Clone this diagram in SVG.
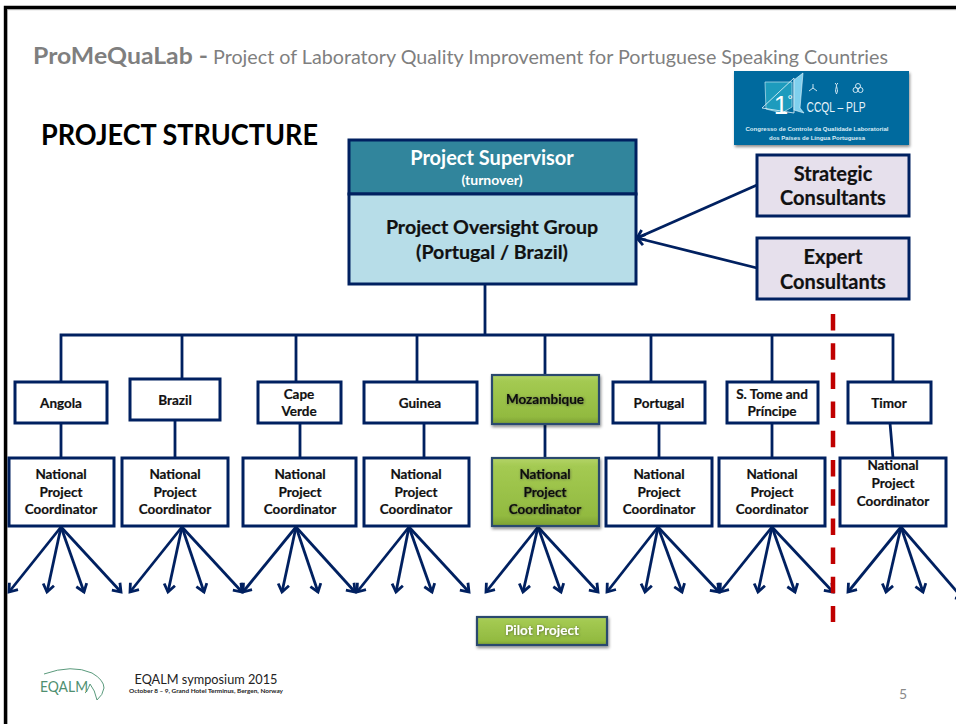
<svg xmlns="http://www.w3.org/2000/svg" width="956" height="724" viewBox="0 0 956 724">
<defs>
<linearGradient id="green" x1="0" y1="0" x2="0" y2="1"><stop offset="0" stop-color="#b4d468"/><stop offset="0.12" stop-color="#a4ca52"/><stop offset="0.85" stop-color="#92ba40"/><stop offset="1" stop-color="#7ca032"/></linearGradient>
<filter id="sh" x="-10%" y="-10%" width="125%" height="130%"><feDropShadow dx="1" dy="2" stdDeviation="1.500" flood-color="#000" flood-opacity="0.45"/></filter>
<filter id="tsh" x="-10%" y="-20%" width="120%" height="150%"><feDropShadow dx="0.500" dy="0.500" stdDeviation="0.800" flood-color="#333" flood-opacity="0.6"/></filter>
<marker id="arr" markerUnits="userSpaceOnUse" markerWidth="14" markerHeight="14" refX="10" refY="7" orient="auto"><path d="M2.500 1.500L10 7L2.500 12.500" fill="none" stroke="#002060" stroke-width="2.800"/></marker>
</defs>
<style>
text{font-family:Lato,"Open Sans",sans-serif;text-anchor:middle}
.b{fill:#fff;stroke:#002060;stroke-width:3}
.g{fill:url(#green);stroke:#2c4a6e;stroke-width:2.200;filter:url(#sh)}
.c{fill:#e6e0ec;stroke:#002060;stroke-width:3}
.l{font-weight:700;font-size:13.500px;fill:#111;stroke:#111;stroke-width:0.200}
.m{font-weight:700;font-size:20px;fill:#111;stroke:#111;stroke-width:0.200}
.cn{fill:none;stroke:#002060;stroke-width:2.800}
.a{fill:none;stroke:#002060;stroke-width:2.800;marker-end:url(#arr)}
</style>
<rect width="956" height="724" fill="#fff"/>
<path d="M5.500 724V7.500H956" fill="none" stroke="#000" stroke-width="3.400"/>
<path d="M7.500 724V9.700H956" fill="none" stroke="#999" stroke-width="0.700"/>
<g id="title">
<text x="33" y="64" style="text-anchor:start;font-size:22px;font-weight:700;fill:#7f7f7f" textLength="175" lengthAdjust="spacingAndGlyphs">ProMeQuaLab -</text>
<text x="213" y="64" style="text-anchor:start;font-size:20px;fill:#7f7f7f" textLength="675" lengthAdjust="spacingAndGlyphs">Project of Laboratory Quality Improvement for Portuguese Speaking Countries</text>
<text x="41" y="145" style="text-anchor:start;font-size:29px;font-weight:700;fill:#000" textLength="277" lengthAdjust="spacingAndGlyphs">PROJECT STRUCTURE</text>
</g>
<g id="logo-ccql">
<rect x="734" y="71" width="175" height="74" fill="#056a9e" filter="url(#sh)"/>
<path d="M765 82H792V107L782 113L766 109Z" fill="#1d9bbd" stroke="#bfe4f0" stroke-width="0.700"/>
<path d="M762 108L794 78V113Z" fill="none" stroke="#e8f6fb" stroke-width="0.800"/>
<path d="M794 80L803 73L800 108L804 113L794 110Z" fill="#7fd0ee" stroke="#e8f6fb" stroke-width="0.600"/>
<text x="781" y="114" style="font-size:26px;fill:#fff;font-family:'Liberation Sans'">1</text>
<text x="790" y="104" style="font-size:13px;fill:#fff;font-family:'Liberation Sans'">°</text>
<g fill="none" stroke="#cfe6f2" stroke-width="1"><path d="M813 84V88M809 91L813 88L817 91"/><path d="M835 83C839 86 833 90 837 94M838 83C834 86 840 90 836 94"/><circle cx="858" cy="86" r="2.500"/><circle cx="855.500" cy="90" r="2.500"/><circle cx="860.500" cy="90" r="2.500"/></g>
<text x="836" y="112" style="font-size:15px;fill:#e8f3f9;font-family:'Liberation Sans'" textLength="59" lengthAdjust="spacingAndGlyphs">CCQL – PLP</text>
<text x="817" y="131" style="font-size:5.500px;font-weight:700;fill:#dcecf5;font-family:'Liberation Sans'" textLength="143" lengthAdjust="spacingAndGlyphs">Congresso de Controle da Qualidade Laboratorial</text>
<text x="817" y="140" style="font-size:5.500px;font-weight:700;fill:#dcecf5;font-family:'Liberation Sans'" textLength="96" lengthAdjust="spacingAndGlyphs">dos Países de Língua Portuguesa</text>
</g>
<g id="connectors">
<path class="cn" d="M485 284V335M61 382V335H893V382M182 335V379M296 335V382M417 335V382M545 335V375M651 335V382M772 335V382"/>
<path class="cn" d="M61 423V458M175 420V458M300 423V458M424 423V458M545 424V458M659 423V458M772 423V458M890 423L893 458"/>
<path class="a" d="M757 185L637 238"/><path class="a" d="M757 268L637 238"/>
<g id="fans">
<path class="a" d="M61 527L9 592"/><path class="a" d="M61 527L47 592"/><path class="a" d="M61 527L84 592"/><path class="a" d="M61 527L121 592"/>
<path class="a" d="M182 527L130 592"/><path class="a" d="M182 527L168 592"/><path class="a" d="M182 527L204 592"/><path class="a" d="M182 527L242 592"/>
<path class="a" d="M296 527L243 592"/><path class="a" d="M296 527L282 592"/><path class="a" d="M296 527L318 592"/><path class="a" d="M296 527L355 592"/>
<path class="a" d="M409 527L357 592"/><path class="a" d="M409 527L396 592"/><path class="a" d="M409 527L432 592"/><path class="a" d="M409 527L469 592"/>
<path class="a" d="M538 527L486 592"/><path class="a" d="M538 527L523 592"/><path class="a" d="M538 527L561 592"/><path class="a" d="M538 527L598 592"/>
<path class="a" d="M658 527L607 592"/><path class="a" d="M658 527L645 592"/><path class="a" d="M658 527L682 592"/><path class="a" d="M658 527L719 592"/>
<path class="a" d="M772 527L720 592"/><path class="a" d="M772 527L758 592"/><path class="a" d="M772 527L795 592"/><path class="a" d="M772 527L833 592"/>
<path class="a" d="M901 527L848 592"/><path class="a" d="M901 527L886 592"/><path class="a" d="M901 527L923 592"/><path class="a" d="M901 527L964 600"/>
</g>
<path d="M833 314V622" fill="none" stroke="#c00000" stroke-width="4.500" stroke-dasharray="16.500 12.700"/>
</g>
<g id="top-box">
<rect x="349" y="140" width="287" height="54" fill="#31859c" stroke="#002060" stroke-width="3"/>
<rect x="349" y="194" width="287" height="90" fill="#b7dde8" stroke="#002060" stroke-width="3"/>
<text x="492" y="165" style="font-size:20px;font-weight:700;fill:#fff">Project Supervisor</text>
<text x="492" y="185" style="font-size:14px;font-weight:700;fill:#fff">(turnover)</text>
<text x="492" y="234" class="m" style="font-size:19.600px">Project Oversight Group</text>
<text x="492" y="259" class="m" style="font-size:19.600px">(Portugal / Brazil)</text>
</g>
<g id="strategic"><rect class="c" x="757" y="155" width="152" height="61"/><text class="m" x="833" y="181">Strategic</text><text class="m" x="833" y="205">Consultants</text></g>
<g id="expert"><rect class="c" x="757" y="238" width="152" height="61"/><text class="m" x="833" y="264">Expert</text><text class="m" x="833" y="289">Consultants</text></g>
<g id="angola"><rect class="b" x="15" y="382" width="92" height="41"/><text class="l" x="61" y="408">Angola</text></g>
<g id="brazil"><rect class="b" x="130" y="379" width="90" height="41"/><text class="l" x="175" y="405">Brazil</text></g>
<g id="capeverde"><rect class="b" x="258" y="382" width="83" height="41"/><text class="l" x="299" y="399">Cape</text><text class="l" x="299" y="416">Verde</text></g>
<g id="guinea"><rect class="b" x="364" y="382" width="113" height="41"/><text class="l" x="420" y="408">Guinea</text></g>
<g id="mozambique"><rect class="g" x="492" y="375" width="107" height="49"/><text class="l" x="545" y="404" filter="url(#tsh)">Mozambique</text></g>
<g id="portugal"><rect class="b" x="613" y="382" width="92" height="41"/><text class="l" x="659" y="408">Portugal</text></g>
<g id="stome"><rect class="b" x="727" y="382" width="91" height="41"/><text class="l" x="772" y="399">S. Tome and</text><text class="l" x="772" y="416">Príncipe</text></g>
<g id="timor"><rect class="b" x="848" y="382" width="83" height="41"/><text class="l" x="889" y="408">Timor</text></g>
<g id="npc1"><rect class="b" x="9" y="458" width="105" height="68"/><text class="l" x="61" y="479">National</text><text class="l" x="61" y="497">Project</text><text class="l" x="61" y="514">Coordinator</text></g>
<g id="npc2"><rect class="b" x="122" y="458" width="106" height="68"/><text class="l" x="175" y="479">National</text><text class="l" x="175" y="497">Project</text><text class="l" x="175" y="514">Coordinator</text></g>
<g id="npc3"><rect class="b" x="243" y="458" width="113" height="68"/><text class="l" x="300" y="479">National</text><text class="l" x="300" y="497">Project</text><text class="l" x="300" y="514">Coordinator</text></g>
<g id="npc4"><rect class="b" x="364" y="458" width="105" height="68"/><text class="l" x="416" y="479">National</text><text class="l" x="416" y="497">Project</text><text class="l" x="416" y="514">Coordinator</text></g>
<g id="npc5"><rect class="g" x="492" y="458" width="107" height="68"/><text class="l" x="545" y="479" filter="url(#tsh)">National</text><text class="l" x="545" y="497" filter="url(#tsh)">Project</text><text class="l" x="545" y="514" filter="url(#tsh)">Coordinator</text></g>
<g id="npc6"><rect class="b" x="606" y="458" width="106" height="68"/><text class="l" x="659" y="479">National</text><text class="l" x="659" y="497">Project</text><text class="l" x="659" y="514">Coordinator</text></g>
<g id="npc7"><rect class="b" x="719" y="458" width="106" height="68"/><text class="l" x="772" y="479">National</text><text class="l" x="772" y="497">Project</text><text class="l" x="772" y="514">Coordinator</text></g>
<g id="npc8"><rect class="b" x="840" y="458" width="106" height="68"/><text class="l" x="893" y="470">National</text><text class="l" x="893" y="488">Project</text><text class="l" x="893" y="506">Coordinator</text></g>
<g id="pilot"><rect class="g" x="477" y="617" width="130" height="28"/><text x="542" y="635" style="font-size:13.500px;font-weight:700;fill:#fff" filter="url(#tsh)">Pilot Project</text></g>
<g id="footer">
<path d="M44 674Q72 664 92 673Q104 680 104 688Q103 695 97 700Q95 690 90 684Q87 692 85 693" fill="none" stroke="#5a9a7c" stroke-width="1"/>
<text x="40" y="692" style="text-anchor:start;font-size:15px;fill:#4f8f70" textLength="48" lengthAdjust="spacingAndGlyphs">EQALM</text>
<text x="206" y="684" style="font-size:14px;fill:#222" textLength="143" lengthAdjust="spacingAndGlyphs">EQALM symposium 2015</text>
<text x="206" y="693" style="font-size:6px;fill:#222;font-weight:700" textLength="154" lengthAdjust="spacingAndGlyphs">October 8 – 9, Grand Hotel Terminus, Bergen, Norway</text>
<text x="903" y="699" style="font-size:14px;fill:#8a8a8a">5</text>
</g>
</svg>
